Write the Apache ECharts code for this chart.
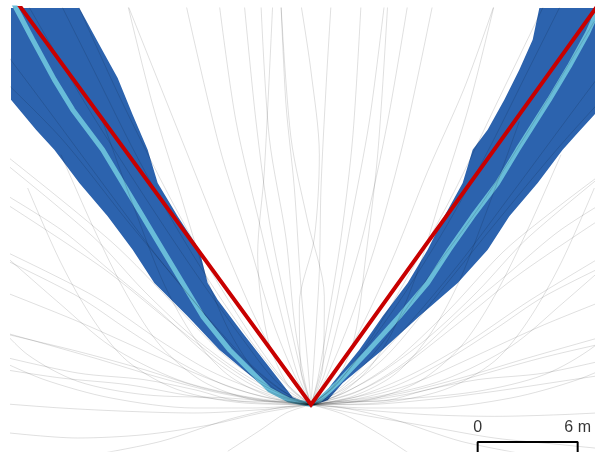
<!DOCTYPE html>
<html>
<head>
<meta charset="utf-8">
<script src="https://cdn.jsdelivr.net/npm/echarts@6/dist/echarts.min.js"></script>
<style>
  html, body { margin: 0; padding: 0; background: #fff; }
  #chart { width: 595px; height: 452px; }
</style>
</head>
<body>
<div id="chart"></div>
<script>
// positions in metres, origin = release point
const bandLeftOuter = [[-19.5,20.1],[-18,18.3],[-16.5,16.5],[-15.4,15.3],[-13.9,13.3],[-12.2,11.3],[-10.7,9.3],[-9.4,7.3],[-7.4,5.3],[-5.5,3.3],[-3.1,1.3],[-1.4,0.3],[-0.4,0.02]];
const bandLeftInner = [[-0.3,0.1],[-1.1,0.45],[-2.5,2.25],[-4.1,4.3],[-5.6,6.3],[-6.2,7.3],[-6.7,9.3],[-8.0,11.3],[-9.2,13.3],[-9.8,15.3],[-10.7,17.4],[-11.6,19.6],[-12.7,21.6],[-13.9,23.8],[-14.4,25]];
const bandRightOuter = [[19,19.2],[17.0,17.4],[16.0,16.3],[15.1,15.3],[13.6,13.3],[11.9,11.3],[10.6,9.3],[8.8,7.3],[6.5,5.3],[4.3,3.3],[1.9,1.3],[1.0,0.27],[0.3,0.02]];
const bandRightInner = [[0.2,0.1],[0.5,0.27],[1.3,1.3],[2.9,3.3],[4.3,5.3],[5.8,7.3],[7.0,9.3],[8.0,11.3],[9.1,13.3],[9.7,15.3],[10.6,16.5],[11.6,18.3],[12.5,20.1],[13.3,21.9],[13.7,23.8],[13.9,25]];

const meanLeft = [[0,0],[-1.3,0.27],[-2.5,0.9],[-2.9,1.3],[-4.9,3.3],[-6.5,5.3],[-7.7,7.3],[-8.9,9.3],[-10.1,11.3],[-11.3,13.3],[-12.5,15.3],[-14.3,17.7],[-15.4,19.5],[-16.7,21.9],[-17.7,23.8],[-17.9,24.2]];
const meanRight = [[0,0],[0.5,0.27],[1.6,1.3],[3.5,3.3],[5.3,5.3],[7.0,7.3],[8.3,9.3],[9.7,11.3],[11.2,13.3],[12.4,15.3],[14.3,18.3],[15.5,20.3],[16.6,22.3],[17.0,23.2],[17.6,24.2]];

const redLine = [[-17.9,24.5],[0,0],[17.6,24.5]];

const scaleBar = [[10,-3.2],[10,-2.24],[16,-2.24],[16,-3.2]];
const scaleLabels = [[10,-1.4,'0'],[16,-1.4,'6 m']];

// individual tracks (grey)
const tracks = [
  [[0,0],[-3,-0.3],[-7,-0.5],[-11,-0.4],[-15,-0.2],[-19,0.1]],
  [[0,0],[-3,0.1],[-7,0.5],[-11,1.2],[-15,1.6],[-19,2.2]],
  [[0,0],[-3,0.3],[-6.5,1],[-10,2.1],[-14,3.2],[-19,4.4]],
  [[0,0],[-3,0.5],[-6,1.5],[-9.5,3],[-14,5],[-19,7]],
  [[0,0],[-2.5,0.6],[-6,2],[-9,3.8],[-13,6.5],[-19,9.5]],
  [[0,0],[-2.5,0.8],[-5,2.3],[-8.5,5],[-12.5,8.2],[-19,12.5]],
  [[0,0],[-2,0.8],[-5,2.8],[-8,5.8],[-12,9.8],[-19,15.5]],
  [[0,0],[-2,1],[-4.5,3.2],[-7.5,6.8],[-11,11],[-15,16],[-19,20]],
  [[0,0],[-2,1.3],[-4,3.8],[-7,8],[-10,12.5],[-13.5,18],[-17,24]],
  [[0,0],[-1.5,1.3],[-3.5,4],[-6,8],[-8.5,12.5],[-11.5,18.5],[-14,24]],
  [[0,0],[-1.2,1.5],[-3,4.5],[-5,9],[-7,14],[-9,19],[-11,24]],
  [[0,0],[-1,1.8],[-2.3,5],[-3.8,10],[-5.5,15.5],[-7.5,24]],
  [[0,0],[-0.6,2],[-1.5,6],[-2.5,11],[-3.3,17],[-4,24]],
  [[0,0],[-0.2,2.5],[-0.6,7],[-1,13],[-1.5,18],[-1.8,24]],
  [[0,0],[0.2,3],[0.5,8],[0.6,13],[0.9,19],[1.2,24]],
  [[0,0],[0.6,2],[1.5,6],[2.4,11],[3.5,17],[4.4,24]],
  [[0,0],[1,1.8],[2.4,5.2],[4,10],[5.6,16],[7.3,24]],
  [[0,0],[1.3,1.6],[3,4.6],[5,9],[7,14],[9.2,19],[11,24]],
  [[0,0],[1.6,1.3],[3.6,4],[6.1,8.2],[8.6,12.8],[11.2,18.2],[14,24]],
  [[0,0],[2,1.2],[4.2,3.6],[7,7.6],[10.2,12],[13.4,17],[17,23]],
  [[0,0],[2.1,1],[4.6,3],[7.6,6.6],[11,10.8],[15,15.6],[19,20]],
  [[0,0],[2.2,0.8],[5,2.6],[8.2,5.6],[12,9.6],[19,15]],
  [[0,0],[2.6,0.7],[5.2,2.1],[8.6,4.7],[12.6,7.9],[19,12.2]],
  [[0,0],[2.8,0.5],[6,1.8],[9.2,3.6],[13.2,6.3],[19,9.8]],
  [[0,0],[3,0.4],[6.2,1.3],[9.6,2.8],[14,4.8],[19,6.8]],
  [[0,0],[3,0.2],[6.6,0.8],[10.2,1.8],[14.2,2.9],[19,4]],
  [[0,0],[3,0],[7,0.3],[11,0.8],[15,1.4],[19,2]],
  [[0,0],[3,-0.3],[7,-0.6],[11,-0.7],[15,-0.6],[19,-0.4]],
  [[0,0],[-4,0.1],[-8,0.9],[-11,2.6],[-13,5],[-15,8.5],[-17,13]],
  [[0,0],[-3.5,0.3],[-6.5,1.4],[-9,3.5],[-11,6.5],[-13,10.5],[-15,15]],
  [[0,0],[-2.5,0.5],[-5,1.8],[-7,4],[-8.8,7.2],[-10.5,11.5],[-12.5,17]],
  [[0,0],[-1.8,0.7],[-3.5,2.2],[-5,4.6],[-6.4,8],[-7.8,12.5],[-9.5,18],[-11,24]],
  [[0,0],[4,0.1],[8,0.9],[11,2.6],[13,5],[15,8.5],[17,13]],
  [[0,0],[3.5,0.3],[6.5,1.4],[9,3.5],[11,6.5],[13,10.5],[15,15]],
  [[0,0],[2.5,0.5],[5,1.8],[7,4],[8.8,7.2],[10.5,11.5],[12.5,17]],
  [[0,0],[1.8,0.7],[3.5,2.2],[5,4.6],[6.4,8],[7.8,12.5],[9.5,18],[11,24]],
  [[0,0],[-3,-0.5],[-6,-1.2],[-10,-1.8],[-14,-2],[-19,-1.6]],
  [[0,0],[3,-0.6],[7,-1.3],[11,-2],[15,-2.4],[19,-2.8]],
  [[0,0],[-1.5,-0.5],[-3,-1.5],[-5,-2.8]],
  [[0,0],[2,-0.6],[4,-1.7],[6,-3]],
  [[0,0],[-0.6,2],[-0.7,6],[0.2,10],[0.5,15],[0,20],[-0.6,24]],
  [[0,0],[0.7,2.2],[0.8,6.5],[-0.2,11],[-1.2,16],[-1.8,24]],
  [[0,0],[-1.4,1.2],[-2.6,4],[-3.2,9],[-2.8,14],[-2.3,24]],
  [[0,0],[1.4,1.2],[2.6,4],[3.3,9],[4,15],[4.6,24]],
  [[0,0],[-5,0.4],[-10,0.6],[-14,1.4],[-17,3],[-19,5]],
  [[0,0],[5,0.3],[10,0.8],[14,1.8],[17,3.5],[19,5.5]],
  [[0,0],[-2,0.3],[-5,1.1],[-8,2.6],[-11,4.5],[-14,6.5],[-19,9]],
  [[0,0],[-2.5,0.2],[-5.5,0.7],[-9,1.6],[-13,2.8],[-19,4.5]],
  [[0,0],[-1.5,0.5],[-4,1.8],[-7,4],[-10,6.8],[-13,10],[-19,15]],
  [[0,0],[-1.5,0.7],[-3.5,2.3],[-6,5],[-9,8.6],[-12,12.6],[-16,18],[-19,22]],
  [[0,0],[-4,0.5],[-8,1.5],[-12,3.5],[-15,6],[-19,9.5]],
  [[0,0],[-3,0.9],[-6,2.8],[-9,5.5],[-12,8],[-15,10.5],[-19,13]],
  [[0,0],[-2,0.2],[-4,0.2],[-7,0.9],[-10,1.5],[-14,1.9],[-19,3]],
  [[0,0],[-3.5,-0.2],[-7,-0.2],[-12,0.4],[-16,1.5],[-19,2.8]],
  [[0,0],[-1.2,0.9],[-3,3],[-5.5,6.5],[-8,10.5],[-10.5,15],[-13,20],[-15,24]],
  [[0,0],[2,0.3],[5,1.1],[8,2.6],[11,4.5],[14,6.5],[19,9]],
  [[0,0],[2.5,0.2],[5.5,0.7],[9,1.6],[13,2.8],[19,4.5]],
  [[0,0],[1.5,0.5],[4,1.8],[7,4],[10,6.8],[13,10],[19,15]],
  [[0,0],[1.5,0.7],[3.5,2.3],[6,5],[9,8.6],[12,12.6],[16,18],[19,22]],
  [[0,0],[4,0.5],[8,1.5],[12,3.5],[15,6],[19,9.5]],
  [[0,0],[3,0.9],[6,2.8],[9,5.5],[12,8],[15,10.5],[19,13]],
  [[0,0],[2,0.2],[4,0.2],[7,0.9],[10,1.5],[14,1.9],[19,3]],
  [[0,0],[3.5,-0.2],[7,-0.2],[12,0.4],[16,1.5],[19,2.8]],
  [[0,0],[1.2,0.9],[3,3],[5.5,6.5],[8,10.5],[10.5,15],[13,20],[15,24]],
  [[0,0],[-0.4,1.5],[-1,5],[-1.5,10],[-2.5,16],[-3,24]],
  [[0,0],[0.4,1.5],[1,5],[1.8,10],[2.5,16],[3,24]],
  [[0,0],[-0.8,1.8],[-1.8,5.5],[-3,10.5],[-4.5,17],[-5.5,24]],
  [[0,0],[0.8,1.8],[1.8,5.5],[3.2,10.5],[4.6,17],[5.8,24]],
  [[0,0],[-2,-0.2],[-5,-0.9],[-9,-2.2],[-13,-3]],
  [[0,0],[2,-0.2],[5,-0.9],[9,-2.2],[13,-3]]
];

const chart = echarts.init(document.getElementById('chart'));

function bandSeries(outer, inner) {
  const corner = [outer[0][0] < 0 ? -20 : 20, 25];
  const pts = [corner].concat(outer, inner);
  return {
    type: 'custom',
    clip: true,
    silent: true,
    z: 1,
    data: [[0, 0]],
    renderItem: (params, api) => ({
      type: 'polygon',
      shape: { points: pts.map(p => api.coord(p)) },
      style: { fill: '#2c63ae' }
    })
  };
}

function lineSeries(data, color, width, z, extra) {
  return Object.assign({
    type: 'line',
    data: data,
    symbol: 'none',
    silent: true,
    clip: true,
    z: z,
    lineStyle: { color: color, width: width }
  }, extra || {});
}

const series = [
  bandSeries(bandLeftOuter, bandLeftInner),
  bandSeries(bandRightOuter, bandRightInner),
  lineSeries(meanLeft, '#68bcd9', 5, 2),
  lineSeries(meanRight, '#68bcd9', 5, 2)
];
tracks.forEach(t => series.push(lineSeries(t, 'rgba(0,0,0,0.14)', 0.9, 3, { smooth: 0.3 })));
series.push(lineSeries(redLine, '#c80000', 4, 4, {
  lineStyle: { color: '#c80000', width: 4, join: 'miter' }
}));
series.push(lineSeries(scaleBar, '#000', 2, 5, { clip: false }));
series.push({
  type: 'scatter',
  data: scaleLabels,
  symbolSize: 0,
  silent: true,
  clip: false,
  z: 5,
  label: {
    show: true,
    position: 'inside',
    formatter: p => p.data[2],
    color: '#000',
    fontSize: 16,
    fontFamily: 'Liberation Sans'
  }
});

chart.setOption({
  animation: false,
  backgroundColor: '#fff',
  grid: { left: 11, top: 8, right: 0, height: 443.33 },
  xAxis: { type: 'value', min: -18, max: 17.04, show: false },
  yAxis: { type: 'value', min: -2.8, max: 23.8, show: false },
  series: series
});
</script>
</body>
</html>
